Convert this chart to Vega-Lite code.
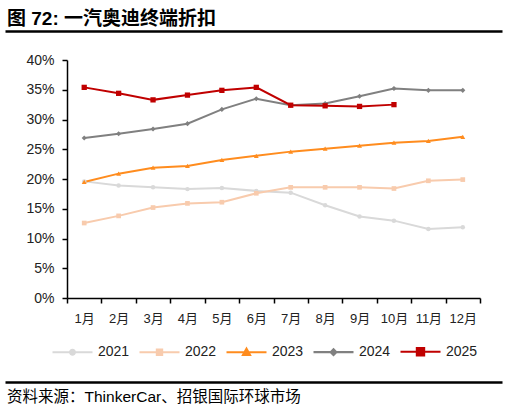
{
  "$schema": "https://vega.github.io/schema/vega-lite/v6.json",
  "background": "white",
  "padding": {"left": 5, "top": 10, "right": 5, "bottom": 2},
  "spacing": 2,
  "config": {
    "font": "Liberation Sans, Noto Sans CJK SC, sans-serif",
    "view": {"stroke": null}
  },
  "datasets": {
    "discount": [
      {"month": "1月", "year": "2021", "rate": 0.196},
      {"month": "2月", "year": "2021", "rate": 0.189},
      {"month": "3月", "year": "2021", "rate": 0.186},
      {"month": "4月", "year": "2021", "rate": 0.183},
      {"month": "5月", "year": "2021", "rate": 0.185},
      {"month": "6月", "year": "2021", "rate": 0.180},
      {"month": "7月", "year": "2021", "rate": 0.177},
      {"month": "8月", "year": "2021", "rate": 0.156},
      {"month": "9月", "year": "2021", "rate": 0.137},
      {"month": "10月", "year": "2021", "rate": 0.130},
      {"month": "11月", "year": "2021", "rate": 0.116},
      {"month": "12月", "year": "2021", "rate": 0.119},
      {"month": "1月", "year": "2022", "rate": 0.126},
      {"month": "2月", "year": "2022", "rate": 0.138},
      {"month": "3月", "year": "2022", "rate": 0.152},
      {"month": "4月", "year": "2022", "rate": 0.159},
      {"month": "5月", "year": "2022", "rate": 0.161},
      {"month": "6月", "year": "2022", "rate": 0.176},
      {"month": "7月", "year": "2022", "rate": 0.186},
      {"month": "8月", "year": "2022", "rate": 0.186},
      {"month": "9月", "year": "2022", "rate": 0.186},
      {"month": "10月", "year": "2022", "rate": 0.184},
      {"month": "11月", "year": "2022", "rate": 0.197},
      {"month": "12月", "year": "2022", "rate": 0.199},
      {"month": "1月", "year": "2023", "rate": 0.195},
      {"month": "2月", "year": "2023", "rate": 0.209},
      {"month": "3月", "year": "2023", "rate": 0.219},
      {"month": "4月", "year": "2023", "rate": 0.222},
      {"month": "5月", "year": "2023", "rate": 0.232},
      {"month": "6月", "year": "2023", "rate": 0.239},
      {"month": "7月", "year": "2023", "rate": 0.246},
      {"month": "8月", "year": "2023", "rate": 0.251},
      {"month": "9月", "year": "2023", "rate": 0.256},
      {"month": "10月", "year": "2023", "rate": 0.261},
      {"month": "11月", "year": "2023", "rate": 0.264},
      {"month": "12月", "year": "2023", "rate": 0.271},
      {"month": "1月", "year": "2024", "rate": 0.269},
      {"month": "2月", "year": "2024", "rate": 0.276},
      {"month": "3月", "year": "2024", "rate": 0.284},
      {"month": "4月", "year": "2024", "rate": 0.293},
      {"month": "5月", "year": "2024", "rate": 0.317},
      {"month": "6月", "year": "2024", "rate": 0.335},
      {"month": "7月", "year": "2024", "rate": 0.324},
      {"month": "8月", "year": "2024", "rate": 0.327},
      {"month": "9月", "year": "2024", "rate": 0.339},
      {"month": "10月", "year": "2024", "rate": 0.352},
      {"month": "11月", "year": "2024", "rate": 0.349},
      {"month": "12月", "year": "2024", "rate": 0.349},
      {"month": "1月", "year": "2025", "rate": 0.354},
      {"month": "2月", "year": "2025", "rate": 0.344},
      {"month": "3月", "year": "2025", "rate": 0.333},
      {"month": "4月", "year": "2025", "rate": 0.341},
      {"month": "5月", "year": "2025", "rate": 0.349},
      {"month": "6月", "year": "2025", "rate": 0.354},
      {"month": "7月", "year": "2025", "rate": 0.324},
      {"month": "8月", "year": "2025", "rate": 0.323},
      {"month": "9月", "year": "2025", "rate": 0.322},
      {"month": "10月", "year": "2025", "rate": 0.325}
    ]
  },
  "vconcat": [
    {
      "title": {
        "text": "图 72: 一汽奥迪终端折扣",
        "anchor": "start",
        "fontSize": 19,
        "fontWeight": "bold",
        "color": "black",
        "offset": 2,
        "dx": 2
      },
      "width": 497,
      "height": 20,
      "data": {"values": []},
      "mark": "point",
      "encoding": {
        "x": {
          "field": "v",
          "type": "quantitative",
          "scale": {"domain": [0, 1]},
          "axis": {"orient": "top", "domainColor": "black", "domainWidth": 2.5, "ticks": false, "labels": false, "grid": false, "title": null}
        }
      }
    },
    {
      "width": 475,
      "height": 238,
      "data": {"name": "discount"},
      "encoding": {
        "x": {
          "field": "month",
          "type": "ordinal",
          "bandPosition": 0.5,
          "scale": {
            "type": "band",
            "domain": ["1月", "2月", "3月", "4月", "5月", "6月", "7月", "8月", "9月", "10月", "11月", "12月"],
            "range": [62, 475],
            "paddingInner": 0,
            "paddingOuter": 0
          },
          "axis": {
            "title": null,
            "labelAngle": 0,
            "tickBand": "extent",
            "domainColor": "black",
            "domainWidth": 1.5,
            "tickColor": "black",
            "tickWidth": 1.5,
            "tickSize": 5,
            "labelFontSize": 13,
            "labelPadding": 9,
            "labelColor": "#222"
          }
        },
        "y": {
          "field": "rate",
          "type": "quantitative",
          "scale": {"domain": [0, 0.4]},
          "axis": {
            "title": null,
            "offset": -62,
            "values": [0, 0.05, 0.1, 0.15, 0.2, 0.25, 0.3, 0.35, 0.4],
            "format": ".0%",
            "grid": false,
            "domainColor": "black",
            "domainWidth": 1.5,
            "tickColor": "black",
            "tickWidth": 1.5,
            "tickSize": 5,
            "labelFontSize": 14,
            "labelPadding": 8,
            "labelColor": "#222"
          }
        }
      },
      "layer": [
        {
          "mark": {"type": "line"},
          "encoding": {
            "color": {
              "field": "year",
              "type": "nominal",
              "scale": {
                "domain": ["2021", "2022", "2023", "2024", "2025"],
                "range": ["#d9d9d9", "#f8cbad", "#ff8c1e", "#808080", "#c00000"]
              },
              "legend": {
                "orient": "none",
                "legendX": 56,
                "legendY": 280,
                "direction": "horizontal",
                "columns": 5,
                "title": null,
                "symbolType": "M-2,0H2",
                "symbolSize": 400,
                "symbolStrokeWidth": 2.2,
                "labelFontSize": 14,
                "labelColor": "#222",
                "labelOffset": 14,
                "columnPadding": 5,
                "encode": {
                  "symbols": {
                    "update": {
                      "shape": {"signal": "datum.value === '2021' ? 'M-2,0H2M0.24,0A0.24,0.24,0,1,1,-0.24,0A0.24,0.24,0,1,1,0.24,0Z' : datum.value === '2022' ? 'M-2,0H2M-0.26,-0.26H0.26V0.26H-0.26Z' : datum.value === '2023' ? 'M-2,0H2M0,-0.34L0.34,0.26H-0.34Z' : datum.value === '2024' ? 'M-2,0H2M0,-0.28L0.28,0L0,0.28L-0.28,0Z' : 'M-2,0H2M-0.36,-0.36H0.36V0.36H-0.36Z'"},
                      "fill": {"scale": "color", "field": "value"}
                    }
                  }
                }
              }
            },
            "strokeWidth": {
              "field": "year",
              "type": "nominal",
              "scale": {"domain": ["2021", "2022", "2023", "2024", "2025"], "range": [2, 2, 2, 2, 2.6]},
              "legend": null
            }
          }
        },
        {
          "mark": {"type": "point", "filled": true, "opacity": 1},
          "encoding": {
            "color": {"field": "year", "type": "nominal", "legend": null},
            "shape": {
              "field": "year",
              "type": "nominal",
              "scale": {
                "domain": ["2021", "2022", "2023", "2024", "2025"],
                "range": ["circle", "square", "triangle-up", "diamond", "square"]
              },
              "legend": null
            },
            "size": {
              "field": "year",
              "type": "nominal",
              "scale": {"domain": ["2021", "2022", "2023", "2024", "2025"], "range": [20, 28, 40, 22, 50]},
              "legend": null
            }
          }
        }
      ],
      "resolve": {"legend": {"color": "independent"}}
    },
    {
      "title": {
        "text": "资料来源：ThinkerCar、招银国际环球市场",
        "orient": "bottom",
        "anchor": "start",
        "fontSize": 15.5,
        "fontWeight": "normal",
        "color": "black",
        "offset": 8,
        "dx": 2
      },
      "width": 497,
      "height": 20,
      "data": {"values": []},
      "mark": "point",
      "encoding": {
        "x": {
          "field": "v",
          "type": "quantitative",
          "scale": {"domain": [0, 1]},
          "axis": {"orient": "bottom", "domainColor": "black", "domainWidth": 2.5, "ticks": false, "labels": false, "grid": false, "title": null}
        }
      }
    }
  ]
}
